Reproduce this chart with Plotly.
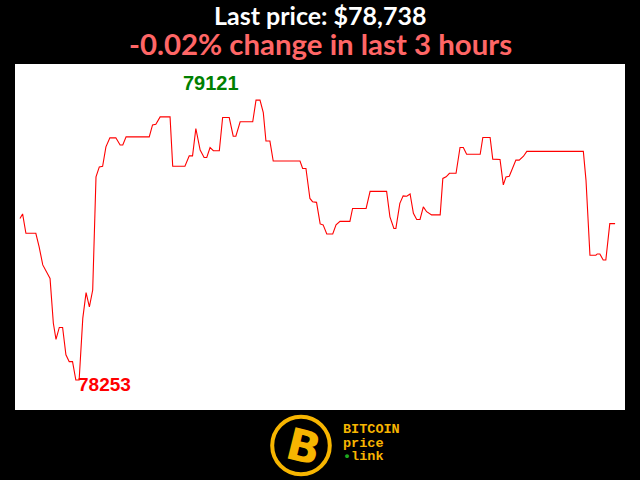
import plotly.graph_objects as go

# ---- data ----
minutes = [0, 0.8, 1.8, 4.8, 5.8, 6.9, 9.1, 10.1, 10.9, 11.9,
           12.9, 13.9, 14.9, 15.9, 16.9, 17.9, 19.0, 20.0, 21.0, 22.0,
           23.0, 24.0, 25.0, 26.0, 27.2, 29.0, 30.3, 31.1, 32.1, 39.1,
           40.1, 41.1, 42.4, 45.4, 46.2, 49.9, 51.2, 52.2, 53.2, 54.5,
           55.7, 56.5, 57.5, 58.5, 60.3, 61.3, 63.3, 64.5, 65.3, 66.6,
           70.4, 71.4, 72.6, 73.6, 74.4, 75.6, 76.6, 84.7, 85.5, 86.5,
           87.7, 88.5, 89.7, 90.8, 91.7, 92.8, 94.6, 95.6, 96.8, 99.8,
           100.6, 104.7, 105.9, 110.9, 111.9, 113.1, 113.7, 114.9, 115.9, 117.0,
           118.0, 119.0, 120.0, 121.0, 122.0, 123.0, 124.5, 127.1, 127.9, 128.9,
           129.9, 131.9, 133.1, 134.1, 135.1, 139.2, 140.0, 142.2, 143.0, 145.2,
           146.2, 147.0, 148.0, 150.0, 151.0, 152.3, 153.3, 170.4, 171.2, 172.4,
           174.2, 174.6, 175.4, 176.4, 177.2, 178.4, 180.0]

prices = [78754, 78768, 78708, 78708, 78666, 78610, 78568, 78429, 78379, 78416,
          78416, 78331, 78310, 78310, 78253, 78253, 78444, 78524, 78480, 78532,
          78883, 78914, 78916, 78976, 79004, 79004, 78982, 78982, 79007, 79007,
          79044, 79046, 79069, 79069, 78916, 78916, 78948, 78948, 79033, 78966,
          78943, 78943, 78974, 78964, 78964, 79067, 79067, 79009, 79009, 79054,
          79054, 79121, 79121, 79082, 78994, 78994, 78932, 78932, 78909, 78909,
          78816, 78806, 78804, 78737, 78734, 78706, 78706, 78734, 78745, 78745,
          78785, 78785, 78838, 78838, 78759, 78723, 78723, 78801, 78824, 78823,
          78830, 78770, 78751, 78751, 78790, 78775, 78765, 78765, 78878, 78883,
          78894, 78894, 78974, 78974, 78953, 78953, 79005, 79005, 78938, 78937,
          78858, 78883, 78885, 78935, 78935, 78947, 78962, 78962, 78873, 78640,
          78640, 78644, 78644, 78625, 78625, 78738, 78738]

period_hours = 3
logo_lines = ["BITCOIN", "price", "link"]

# ---- derived values ----
last_price = prices[-1]
change_pct = (prices[-1] - prices[0]) / prices[0] * 100
max_p = max(prices)
min_p = min(prices)
max_t = minutes[prices.index(max_p)]
min_t = minutes[prices.index(min_p)]

# plot area in pixels: x 15..625, y 64..410
L, R, T, B = 15, 625, 64, 410
def px(x):
    return (x - L) / (R - L)
def py(y):
    return (B - y) / (B - T)

fig = go.Figure()
fig.add_trace(go.Scatter(x=minutes, y=prices, mode="lines",
                         line=dict(color="#ff0000", width=1.1),
                         hoverinfo="skip"))

gold = "#f7b500"
annotations = [
    dict(text=f"Last price: ${last_price:,}", xref="paper", yref="paper",
         x=0.5, y=py(15.5), xanchor="center", yanchor="middle", showarrow=False,
         font=dict(family="Lato", size=25, color="white", weight="bold")),
    dict(text=f"{change_pct:.2f}% change in last {period_hours} hours", xref="paper", yref="paper",
         x=0.5, y=py(43.5), xanchor="center", yanchor="middle", showarrow=False,
         font=dict(family="Lato", size=29.4, color="#ff6666", weight="bold")),
    dict(text=str(max_p), x=max_t, y=max_p, xref="x", yref="y",
         xanchor="center", yanchor="middle", xshift=-45, yshift=17, showarrow=False,
         font=dict(family="Liberation Sans", size=20, color="#008000", weight="bold")),
    dict(text=str(min_p), x=min_t, y=min_p, xref="x", yref="y",
         xanchor="left", yanchor="middle", xshift=0, yshift=-4, showarrow=False,
         font=dict(family="Liberation Sans", size=19, color="#ff0000", weight="bold")),
    # logo
    dict(text="B", xref="paper", yref="paper", x=px(304), y=py(446),
         xanchor="center", yanchor="middle", showarrow=False, textangle=14,
         font=dict(family="DejaVu Sans", size=44, color=gold, weight="bold")),
    dict(text=logo_lines[0], xref="paper", yref="paper", x=px(341), y=py(429.5),
         xanchor="left", yanchor="middle", showarrow=False,
         font=dict(family="Liberation Mono", size=13.5, color=gold, weight="bold")),
    dict(text=logo_lines[1], xref="paper", yref="paper", x=px(341), y=py(443),
         xanchor="left", yanchor="middle", showarrow=False,
         font=dict(family="Liberation Mono", size=13.5, color=gold, weight="bold")),
    dict(text="<span style='color:#1fa81f'>•</span>" + logo_lines[2], xref="paper", yref="paper",
         x=px(341), y=py(456.5),
         xanchor="left", yanchor="middle", showarrow=False,
         font=dict(family="Liberation Mono", size=13.5, color=gold, weight="bold")),
]

r = 28.8
cx, cy = 301, 445.5
shapes = [dict(type="circle", xref="paper", yref="paper",
               x0=px(cx - r), x1=px(cx + r), y0=py(cy + r), y1=py(cy - r),
               line=dict(color=gold, width=4), fillcolor="rgba(0,0,0,0)", layer="above")]

fig.update_layout(
    width=640, height=480,
    margin=dict(l=L, r=640 - R, t=T, b=480 - B),
    paper_bgcolor="black", plot_bgcolor="white",
    showlegend=False,
    xaxis=dict(visible=False, range=[-1.5, 183.0], fixedrange=True),
    yaxis=dict(visible=False, range=[78160, 79233], fixedrange=True),
    annotations=annotations, shapes=shapes,
)

fig.write_html("out.html", config={"displayModeBar": False},
               post_script="document.body.style.margin='0';document.body.style.background='black';document.body.style.overflow='hidden';")
